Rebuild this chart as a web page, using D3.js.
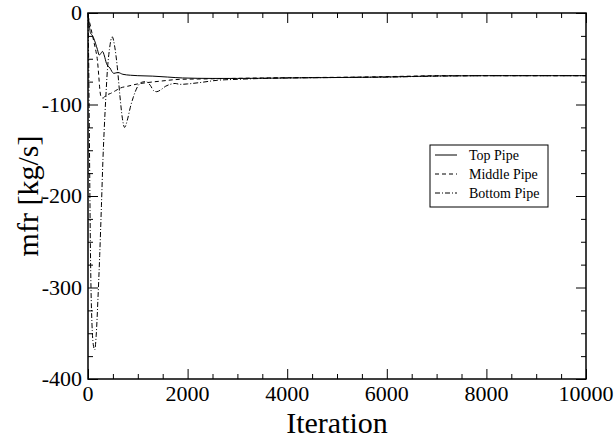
<!DOCTYPE html>
<html>
<head>
<meta charset="utf-8">
<script src="https://cdn.jsdelivr.net/npm/d3@7"></script>
<style>
  body { margin: 0; background: #fff; }
</style>
</head>
<body>
<svg id="chart" width="616" height="438"></svg>
<script>
// iteration, mfr pairs
const topPipe = [
  [0, 0], [20, -10], [50, -22], [80, -24], [110, -27], [150, -33], [190, -40],
  [225, -46], [260, -44], [290, -42], [330, -47], [370, -55], [400, -58],
  [440, -60], [480, -64], [520, -66], [600, -65], [700, -67], [850, -68],
  [1000, -68.5], [1300, -69], [1600, -70], [1900, -71], [2500, -71.5],
  [3000, -71.5], [4000, -71], [5000, -70.5], [6000, -70], [7000, -68.8],
  [8000, -68.5], [10000, -68.5]
];
const middlePipe = [
  [0, -3], [40, -12], [80, -22], [120, -32], [160, -42], [190, -52], [215, -68],
  [240, -85], [265, -92], [300, -93], [360, -90], [450, -88], [550, -85],
  [650, -82], [800, -80], [1000, -77.5], [1200, -76], [1450, -74.5],
  [1850, -72.5], [2400, -72], [2900, -71.5], [3500, -71], [4500, -70.5],
  [5500, -70], [6500, -69], [7000, -68.5], [10000, -68.5]
];
const bottomPipe = [
  [0, 0], [15, -60], [30, -150], [45, -240], [60, -300], [80, -340], [105, -362],
  [135, -368], [165, -352], [200, -312], [235, -265], [270, -210], [300, -160],
  [325, -128], [355, -95], [390, -62], [430, -40], [485, -26], [540, -38],
  [590, -60], [640, -90], [690, -115], [735, -125], [790, -117], [850, -103],
  [910, -92], [1000, -80], [1090, -75.5], [1160, -75], [1250, -79], [1320, -85],
  [1380, -86], [1460, -84], [1560, -80], [1650, -78], [1750, -77], [1850, -78],
  [2000, -77.5], [2250, -76], [2600, -73.5], [3000, -72.5], [3500, -71.5],
  [4000, -71], [5000, -70.5], [6000, -70], [7000, -69], [8000, -68.5], [10000, -68.5]
];

const seriesNames = ["Top Pipe", "Middle Pipe", "Bottom Pipe"];
const seriesDash = ["none", "4,3", "5,2,1,2"];
const xTicks = [0, 2000, 4000, 6000, 8000, 10000];
const yTicks = [0, -100, -200, -300, -400];

const FONT = "'Liberation Serif', 'Times New Roman', Times, 'DejaVu Serif', serif";

const svg = d3.select("#chart").attr("font-family", FONT);
const mLeft = 88, mRight = 586, mTop = 13, mBottom = 379;

const x = d3.scaleLinear().domain([0, 10000]).range([mLeft, mRight]);
const y = d3.scaleLinear().domain([-400, 0]).range([mBottom, mTop]);

const xMinor = d3.range(0, 10001, 500).filter(v => v % 2000 !== 0);
const yMinor = d3.range(-400, 1, 25).filter(v => v % 100 !== 0);

// ticks on all four sides, pointing in
function tickAxis(axisFn, scale, values, size, tx, ty) {
  svg.append("g")
    .attr("transform", `translate(${tx},${ty})`)
    .call(axisFn(scale).tickValues(values).tickSize(-size).tickSizeOuter(0).tickFormat(""))
    .call(g => g.select(".domain").remove())
    .call(g => g.selectAll("line").attr("stroke", "#000").attr("stroke-width", 1));
}
tickAxis(d3.axisBottom, x, xMinor, 5, 0, mBottom);
tickAxis(d3.axisTop, x, xMinor, 5, 0, mTop);
tickAxis(d3.axisLeft, y, yMinor, 5, mLeft, 0);
tickAxis(d3.axisRight, y, yMinor, 5, mRight, 0);
tickAxis(d3.axisBottom, x, xTicks, 10, 0, mBottom);
tickAxis(d3.axisTop, x, xTicks, 10, 0, mTop);
tickAxis(d3.axisLeft, y, yTicks, 10, mLeft, 0);
tickAxis(d3.axisRight, y, yTicks, 10, mRight, 0);

// tick labels
svg.append("g").selectAll("text").data(xTicks).join("text")
  .attr("x", d => x(d)).attr("y", mBottom + 22)
  .attr("text-anchor", "middle").attr("font-size", 22)
  .attr("font-family", FONT)
  .text(d => d);
svg.append("g").selectAll("text").data(yTicks).join("text")
  .attr("x", mLeft - 6).attr("y", d => y(d) + 7)
  .attr("text-anchor", "end").attr("font-size", 22)
  .attr("font-family", FONT)
  .text(d => d);

// curves
const line = d3.line().x(d => x(d[0])).y(d => y(d[1])).curve(d3.curveMonotoneX);
const plot = svg.append("g");
[topPipe, middlePipe, bottomPipe].forEach((s, i) => {
  plot.append("path")
    .attr("d", line(s))
    .attr("fill", "none")
    .attr("stroke", "#000")
    .attr("stroke-width", 1)
    .attr("stroke-dasharray", seriesDash[i]);
});

// frame
svg.append("rect")
  .attr("x", mLeft).attr("y", mTop)
  .attr("width", mRight - mLeft).attr("height", mBottom - mTop)
  .attr("fill", "none").attr("stroke", "#000").attr("stroke-width", 1.5);

// axis titles
svg.append("text")
  .attr("x", (mLeft + mRight) / 2).attr("y", 433)
  .attr("text-anchor", "middle").attr("font-size", 30)
  .attr("font-family", FONT)
  .text("Iteration");
svg.append("text")
  .attr("transform", `translate(38,${(mTop + mBottom) / 2}) rotate(-90)`)
  .attr("text-anchor", "middle").attr("font-size", 30)
  .attr("font-family", FONT)
  .text("mfr [kg/s]");

// legend
const lg = svg.append("g").attr("transform", "translate(430,145)");
lg.append("rect").attr("width", 118).attr("height", 62)
  .attr("fill", "#fff").attr("stroke", "#000").attr("stroke-width", 1);
seriesNames.forEach((name, i) => {
  const yy = 10 + i * 19;
  lg.append("line").attr("x1", 5).attr("x2", 27).attr("y1", yy).attr("y2", yy)
    .attr("stroke", "#000").attr("stroke-width", 1).attr("stroke-dasharray", seriesDash[i]);
  lg.append("text").attr("x", 39).attr("y", yy + 4.5)
    .attr("font-size", 14).attr("font-family", FONT).text(name);
});
</script>
</body>
</html>
